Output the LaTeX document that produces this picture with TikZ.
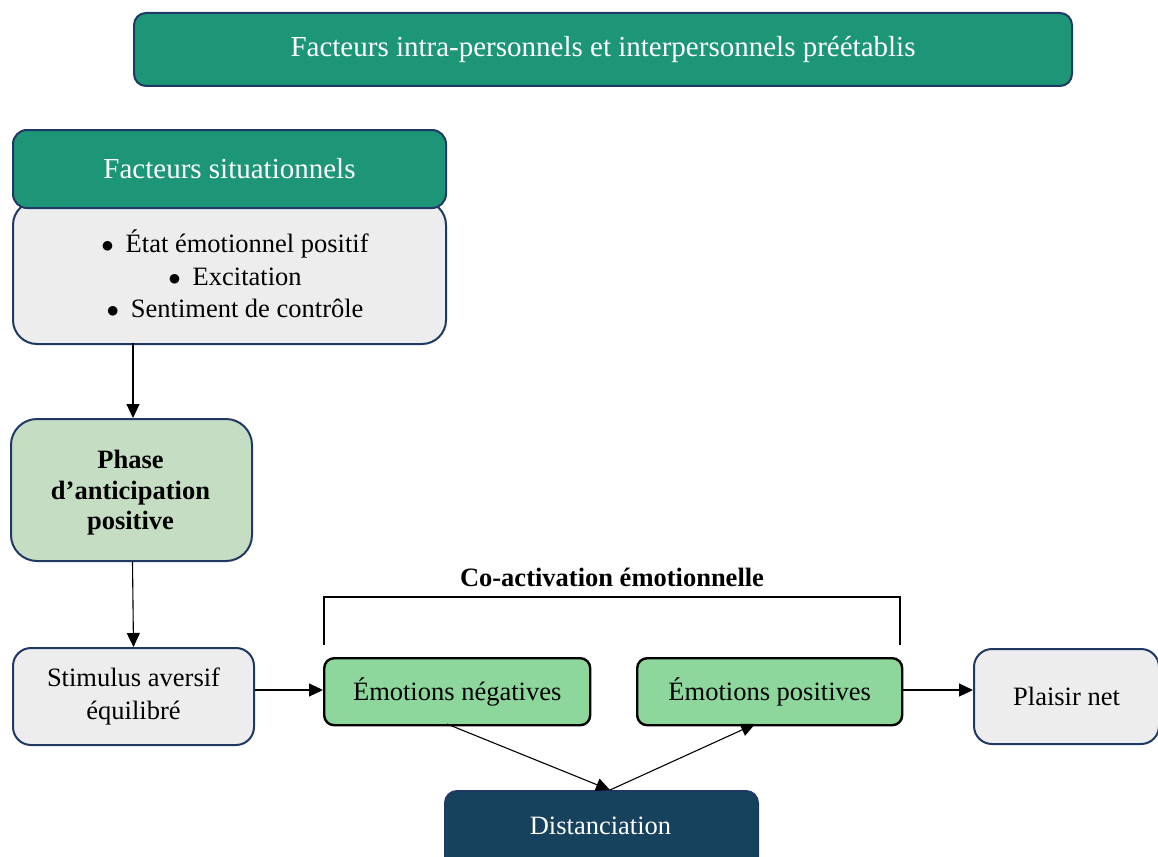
\documentclass[tikz,border=0pt]{standalone}
\usepackage{fontspec}
\setmainfont{Liberation Serif}
\usetikzlibrary{arrows.meta}
\definecolor{teal1}{HTML}{1D9677}
\definecolor{navyb}{HTML}{203864}
\definecolor{grayf}{HTML}{EDEDED}
\definecolor{lgreen}{HTML}{C5DDC2}
\definecolor{egreen}{HTML}{8DD79D}
\definecolor{darkb}{HTML}{16425E}
\newcommand{\blt}{$\bullet$\hspace{0.45em}}
\tikzset{
  box/.style={draw=navyb, line width=2pt, rounded corners=#1, inner sep=0pt, align=center, anchor=north west},
  box/.default=12pt,
  emo/.style={draw=black, line width=2.4pt, rounded corners=10pt, fill=egreen, inner sep=0pt, align=center, anchor=north west, font=\fontsize{26.5}{32}\selectfont},
  arr/.style={-{Triangle[length=14pt,width=13pt]}, line width=1.1pt, black},
  txt/.style={font=\fontsize{26.5}{32.5}\selectfont},
  hdr/.style={font=\fontsize{29}{34}\selectfont, text=white},
}
\begin{document}
\begin{tikzpicture}[x=1pt,y=-1pt]
\useasboundingbox (0,0) rectangle (1158,856);
% top header
\node[box=12pt, fill=teal1, minimum width=938pt, minimum height=73pt, hdr] (top) at (133,12) {Facteurs intra-personnels et interpersonnels préétablis};
% situational factors
\node[box=24pt, fill=grayf, minimum width=433pt, minimum height=143pt] (list) at (12,200) {};
\node[txt, align=center] (listtxt) at (235,274) {\blt État émotionnel positif\\ \blt Excitation\\ \blt Sentiment de contrôle};
\node[box=14pt, fill=teal1, minimum width=433pt, minimum height=78pt, hdr] (sit) at (12,129) {Facteurs situationnels};
% phase
\node[box=26pt, fill=lgreen, minimum width=241pt, minimum height=142pt] (phase) at (10,418) {};
\node[font=\fontsize{26.5}{30.5}\selectfont\bfseries, align=center] (phasetxt) at (130.5,493) {Phase\\ d’anticipation\\ positive};
% stimulus
\node[box=18pt, fill=grayf, minimum width=241pt, minimum height=97pt, txt] (stim) at (12,647) {Stimulus aversif\\ équilibré};
% emotions
\node[emo, minimum width=266pt, minimum height=67pt] (neg) at (323,657) {Émotions négatives};
\node[emo, minimum width=265pt, minimum height=67pt] (pos) at (636,657) {Émotions positives};
% plaisir
\node[box=18pt, fill=grayf, minimum width=185pt, minimum height=95pt, txt] (plaisir) at (973,648) {Plaisir net};
% distanciation
\node[draw=navyb, line width=2pt, rounded corners=12pt, fill=darkb, anchor=north west, minimum width=313pt, minimum height=90pt, inner sep=0pt] (dist) at (444,790) {};
\node[txt, text=white] (disttxt) at (600.5,826) {Distanciation};
% bracket
\coordinate (bl) at (324,645);
\coordinate (br) at (900,645);
\draw[line width=1.3pt] (bl) -- (324,597) -- (900,597) -- (br);
\node[txt, font=\fontsize{26.5}{32}\selectfont\bfseries] (coact) at (612,577) {Co-activation émotionnelle};
% arrows
\draw[arr] (133,343) -- (phase.north -| 133,0);
\draw[arr] (phase.south) ++(1,0) -- (stim.north);
\draw[arr] (stim.east |- 0,690) -- (neg.west |- 0,690);
\draw[arr] (pos.east |- 0,690) -- (plaisir.west |- 0,690);
\coordinate (dtop) at (610,790);
\draw[arr] (447,724) -- (dtop);
\draw[arr] (dtop) -- (755,724);
\end{tikzpicture}
\end{document}
